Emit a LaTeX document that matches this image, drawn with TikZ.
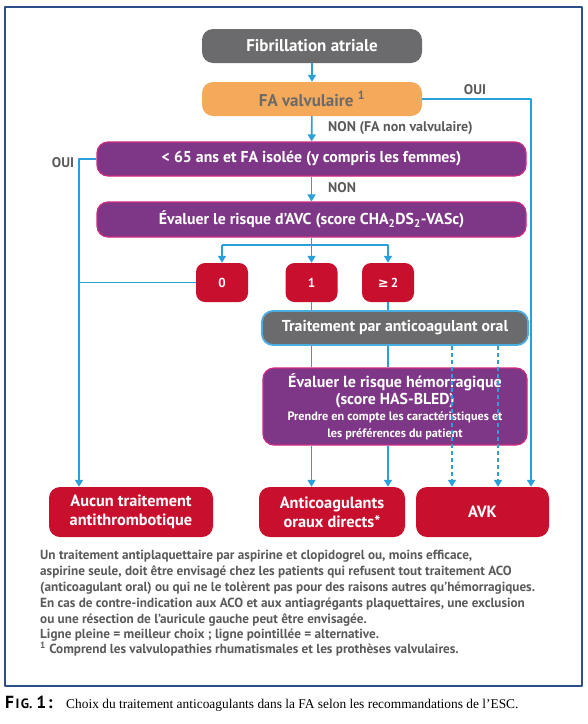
\documentclass[tikz,border=0pt]{standalone}
\usepackage{fontspec}
\setmainfont{PT Sans}
\newfontfamily\capfont{Liberation Serif}
\newfontfamily\symfont{DejaVu Sans}
\usetikzlibrary{arrows.meta}
\definecolor{boxgray}{HTML}{6B6B6D}
\definecolor{fvorange}{HTML}{F5A95B}
\definecolor{fvtext}{HTML}{6A6A6A}
\definecolor{ptpurple}{HTML}{7E3786}
\definecolor{ptpink}{HTML}{CF2A82}
\definecolor{avred}{HTML}{C8102E}
\definecolor{arrblue}{HTML}{2B9FD9}
\definecolor{acoblue}{HTML}{4AADE0}
\definecolor{framecol}{HTML}{2C4F8A}
\definecolor{lblgray}{HTML}{5A5A5A}
\begin{document}
\begin{tikzpicture}[x=1pt, y=-1pt, line join=round, >={Triangle[width=8pt,length=7pt]},
	box/.style={rounded corners=11pt, inner sep=2pt, align=center, text=white,
		font=\fontsize{15.8}{17}\selectfont\bfseries},
	bigbox/.style={box, minimum width=220pt, minimum height=34pt, font=\fontsize{17}{19}\selectfont\bfseries},
	purplebox/.style={box, fill=ptpurple, draw=ptpink, line width=1.2pt},
	redbox/.style={box, fill=avred, minimum height=50pt, font=\fontsize{16.3}{19}\selectfont\bfseries},
	scorebox/.style={box, fill=avred, rounded corners=9pt, minimum width=52pt, minimum height=39pt,
		font=\fontsize{13}{15}\selectfont\bfseries},
	link/.style={draw=arrblue, line width=1.6pt},
	lbl/.style={text=lblgray, inner sep=0pt, font=\fontsize{14}{16}\selectfont\bfseries},
	note/.style={anchor=base west, inner sep=0pt, text=lblgray, font=\fontsize{13.2}{15}\selectfont\bfseries}]
	\useasboundingbox (0,0) rectangle (588,724);
	\draw[framecol, line width=1.4pt] (5,7) rectangle (582,686);
	% boites principales
	\node[bigbox, fill=boxgray] (fib) at (312,46) {Fibrillation atriale};
	\node[bigbox, fill=fvorange, text=fvtext] (valv) at (312,99) {FA valvulaire \textsuperscript{1}};
	\node[purplebox, minimum width=429pt, minimum height=34pt] (age) at (311.5,159) {< 65 ans et FA isolée (y compris les femmes)};
	\node[purplebox, minimum width=429pt, minimum height=35pt] (avc) at (311.5,219.5) {Évaluer le risque d’AVC (score CHA\textsubscript{2}DS\textsubscript{2}-VASc)};
	\foreach \n/\x/\t in {s0/222/0,s1/311.5/1,s2/388/{{\symfont\bfseries≥}\,2}}{
		\node[scorebox] (\n) at (\x,282.5) {\t};
	}
	\node[box, fill=boxgray, draw=acoblue, line width=1.8pt, minimum width=266pt, minimum height=34pt] (aco) at (395,328) {Traitement par anticoagulant oral};
	\node[purplebox, minimum width=264pt, minimum height=77pt] (hem) at (395,406.5)
		{\fontsize{16}{17}\selectfont Évaluer le risque hémorragique\\(score HAS-BLED)\\[-1pt]
		{\fontsize{12.2}{13.5}\selectfont Prendre en compte les caractéristiques et}\\
		{\fontsize{12.2}{13.5}\selectfont les préférences du patient}};
	\node[redbox, minimum width=164pt] (aucun) at (131,512) {Aucun traitement\\antithrombotique};
	\node[redbox, minimum width=146pt] (aod) at (332,512) {Anticoagulants\\oraux directs*};
	\node[redbox, minimum width=133pt] (avk) at (482.5,512) {AVK};
	% liaisons
	\coordinate (ouiR) at (531,99);
	\coordinate (ouiL) at (79,159);
	\coordinate (fork) at (311.5,245);
	\draw[link,->] (fib) -- (valv);
	\draw[link,->] (valv) -- (age);
	\draw[link,->] (age) -- (avc);
	\draw[link,->] (valv.east) -- (ouiR) -- (ouiR |- avk.north);
	\draw[link,->] (age.west) -- (ouiL) -- (ouiL |- aucun.north);
	\draw[link] (s0.west) -- (s0.west -| ouiL);
	\draw[link,->] (avc.south) -- (s1.north);
	\draw[link,->] (fork -| s0) -- (s0.north);
	\draw[link,->] (fork -| s0) -- (fork -| s2) -- (s2.north);
	\foreach \n in {s1,s2}{
		\draw[link] (\n.south) -- (\n.south |- aco.north) (\n |- aco.south) -- (\n |- hem.north);
		\draw[link,->] (\n |- hem.south) -- (\n |- aod.north);
	}
	\foreach \dx in {57,103}{
		\draw[link, dash pattern=on 4pt off 3pt, ->] ([xshift=\dx pt]aco.south) -- ([xshift=\dx pt]aco.south |- avk.north);
	}
	% etiquettes
	\node[lbl] (ouir) at (475,90) {OUI};
	\node[lbl, anchor=west] (nonfa) at (328,128) {NON (FA non valvulaire)};
	\node[lbl] (ouil) at (63,163) {OUI};
	\node[lbl, anchor=west] (non) at (328,188) {NON};
	% notes
	\foreach \y/\t [count=\i] in {559/{Un traitement antiplaquettaire par aspirine et clopidogrel ou, moins efficace,},
		575.5/{aspirine seule, doit être envisagé chez les patients qui refusent tout traitement ACO},
		591.5/{(anticoagulant oral) ou qui ne le tolèrent pas pour des raisons autres qu’hémorragiques.},
		607/{En cas de contre-indication aux ACO et aux antiagrégants plaquettaires, une exclusion},
		623/{ou une résection de l’auricule gauche peut être envisagée.},
		638/{Ligne pleine = meilleur choix ; ligne pointillée = alternative.},
		653/{\textsuperscript{1} Comprend les valvulopathies rhumatismales et les prothèses valvulaires.}}{
		\node[note] (note\i) at (40,\y) {\t};
	}
	% legende
	\node[anchor=base west, inner sep=0pt, font=\bfseries] (capfig) at (5,708)
		{\fontsize{17.5}{19}\selectfont F\hspace{1.5pt}\fontsize{13.5}{15}\selectfont I\hspace{1.5pt}G.\hspace{4pt}\fontsize{17.5}{19}\selectfont 1\hspace{1.5pt}:};
	\node[anchor=base west, inner sep=0pt, font=\capfont\fontsize{13.4}{15}\selectfont] (captext) at (66,708)
		{Choix du traitement anticoagulants dans la FA selon les recommandations de l’ESC.};
\end{tikzpicture}
\end{document}
